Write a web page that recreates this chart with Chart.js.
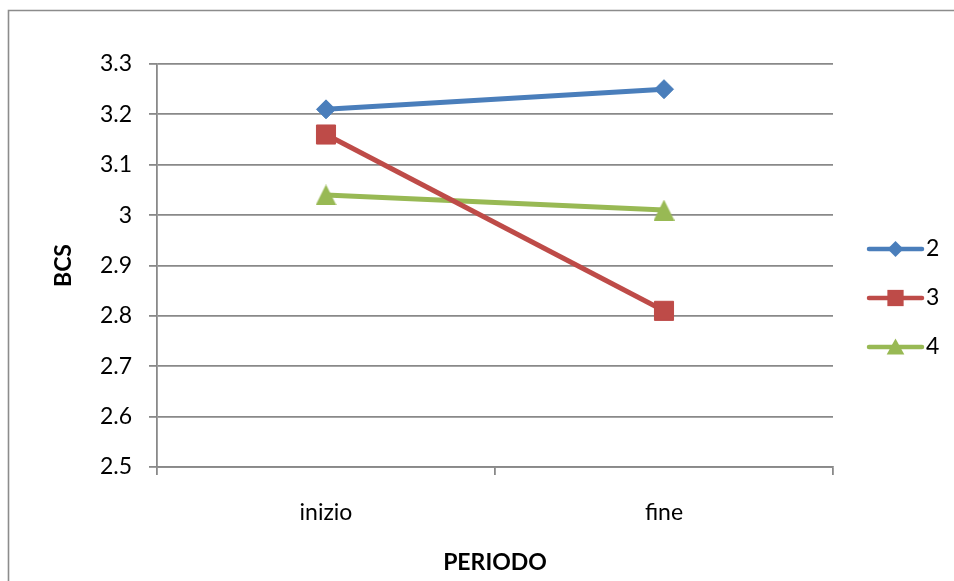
<!DOCTYPE html>
<html>
<head>
<meta charset="utf-8">
<script src="https://cdn.jsdelivr.net/npm/chart.js@4/dist/chart.umd.min.js"></script>
<style>
  html, body { margin: 0; padding: 0; background: #ffffff; }
  #wrap { width: 954px; height: 581px; position: relative; }
</style>
</head>
<body>
<div id="wrap"><canvas id="c" width="954" height="581"></canvas></div>
<script>
// Body condition score at the start and end of the period, per group
const periods = ['inizio', 'fine'];
const groupNames = ['2', '3', '4'];
const group2 = [3.21, 3.25];
const group3 = [3.16, 2.81];
const group4 = [3.04, 3.01];

const yMin = 2.5;
const yMax = 3.3;
const yStep = 0.1;

const FONT = 'Lato, "Open Sans", "Liberation Sans", sans-serif';
const GRID = '#898989';

// Triangle marker centred on its bounding box
function triangleImage(color, w, h) {
  const cv = document.createElement('canvas');
  cv.width = w; cv.height = h;
  const c = cv.getContext('2d');
  c.fillStyle = color;
  c.beginPath();
  c.moveTo(w / 2, 0);
  c.lineTo(w, h);
  c.lineTo(0, h);
  c.closePath();
  c.fill();
  return cv;
}

const styles = [
  { color: '#4A7EBB', shape: 'rectRot', radius: 9.5, legendRadius: 8 },
  { color: '#BE4B48', shape: 'rect', radius: 13.5, legendRadius: 11.5 },
  { color: '#98B954', shape: 'triangle', radius: 11, legendRadius: 10.5 }
];
const seriesValues = [group2, group3, group4];
const triImg = triangleImage(styles[2].color, 21, 21);

const datasets = seriesValues.map((vals, i) => ({
  label: groupNames[i],
  data: vals,
  borderColor: styles[i].color,
  backgroundColor: styles[i].color,
  borderWidth: 5,
  pointStyle: i === 2 ? triImg : styles[i].shape,
  pointRadius: styles[i].radius,
  pointHoverRadius: styles[i].radius,
  pointBackgroundColor: styles[i].color,
  pointBorderColor: styles[i].color,
  pointBorderWidth: 1,
  tension: 0,
  fill: false
}));

function drawMarker(ctx, shape, x, y, r, color) {
  ctx.save();
  ctx.fillStyle = color;
  ctx.beginPath();
  if (shape === 'rectRot') {
    ctx.moveTo(x, y - r); ctx.lineTo(x + r, y); ctx.lineTo(x, y + r); ctx.lineTo(x - r, y);
  } else if (shape === 'rect') {
    const s = r * Math.SQRT1_2;
    ctx.rect(x - s, y - s, 2 * s, 2 * s);
  } else {
    const h = r * 0.8;
    ctx.moveTo(x, y - h); ctx.lineTo(x + h * 1.05, y + h * 0.9); ctx.lineTo(x - h * 1.05, y + h * 0.9);
  }
  ctx.closePath();
  ctx.fill();
  ctx.restore();
}

// Outer frame and the right-hand legend with line + marker samples
const decorations = {
  id: 'decorations',
  afterDraw(chart) {
    const ctx = chart.ctx;
    ctx.save();
    ctx.strokeStyle = '#8c8c8c';
    ctx.lineWidth = 1.6;
    ctx.beginPath();
    ctx.moveTo(8.5, 581);
    ctx.lineTo(8.5, 10.5);
    ctx.lineTo(954, 10.5);
    ctx.stroke();

    const legendY = [249, 298, 347];
    chart.data.datasets.forEach((ds, i) => {
      const y = legendY[i];
      ctx.strokeStyle = ds.borderColor;
      ctx.lineWidth = 4.5;
      ctx.lineCap = 'round';
      ctx.beginPath();
      ctx.moveTo(869, y);
      ctx.lineTo(922, y);
      ctx.stroke();
      drawMarker(ctx, styles[i].shape, 895.5, y, styles[i].legendRadius, ds.borderColor);
      ctx.fillStyle = '#000000';
      ctx.font = '23px ' + FONT;
      ctx.textAlign = 'left';
      ctx.textBaseline = 'middle';
      ctx.fillText(ds.label, 926, y);
    });
    ctx.restore();
  }
};

new Chart(document.getElementById('c'), {
  type: 'line',
  data: { labels: periods, datasets },
  options: {
    responsive: false,
    animation: false,
    events: [],
    layout: { padding: { top: 64, right: 121, bottom: 0, left: 0 } },
    plugins: {
      legend: { display: false },
      tooltip: { enabled: false }
    },
    scales: {
      x: {
        type: 'category',
        offset: true,
        afterFit(scale) { scale.height = 114; },
        grid: {
          offset: true,
          drawOnChartArea: false,
          drawTicks: true,
          tickLength: 8,
          color: GRID,
          lineWidth: 1.8
        },
        border: { display: true, color: GRID, width: 1.8 },
        ticks: {
          color: '#000000',
          font: { family: FONT, size: 23 },
          padding: 24,
          maxRotation: 0
        },
        title: {
          display: true,
          text: 'PERIODO',
          color: '#000000',
          font: { family: FONT, size: 23, weight: 'bold' },
          padding: { top: 0, bottom: 5 }
        }
      },
      y: {
        min: yMin,
        max: yMax,
        afterFit(scale) { scale.width = 157; },
        afterBuildTicks(scale) {
          const t = [];
          for (let k = 0; k <= Math.round((yMax - yMin) / yStep); k++) {
            t.push({ value: +(yMin + k * yStep).toFixed(1) });
          }
          scale.ticks = t;
        },
        grid: {
          drawTicks: true,
          tickLength: 8,
          color: GRID,
          lineWidth: 1.8
        },
        border: { display: true, color: GRID, width: 1.8 },
        ticks: {
          color: '#000000',
          font: { family: FONT, size: 23 },
          padding: 17,
          callback: (v) => String(+Number(v).toFixed(1))
        },
        title: {
          display: true,
          text: 'BCS',
          color: '#000000',
          font: { family: FONT, size: 23, weight: 'bold' },
          padding: { top: 50, bottom: 0 }
        }
      }
    }
  },
  plugins: [decorations]
});
</script>
</body>
</html>
